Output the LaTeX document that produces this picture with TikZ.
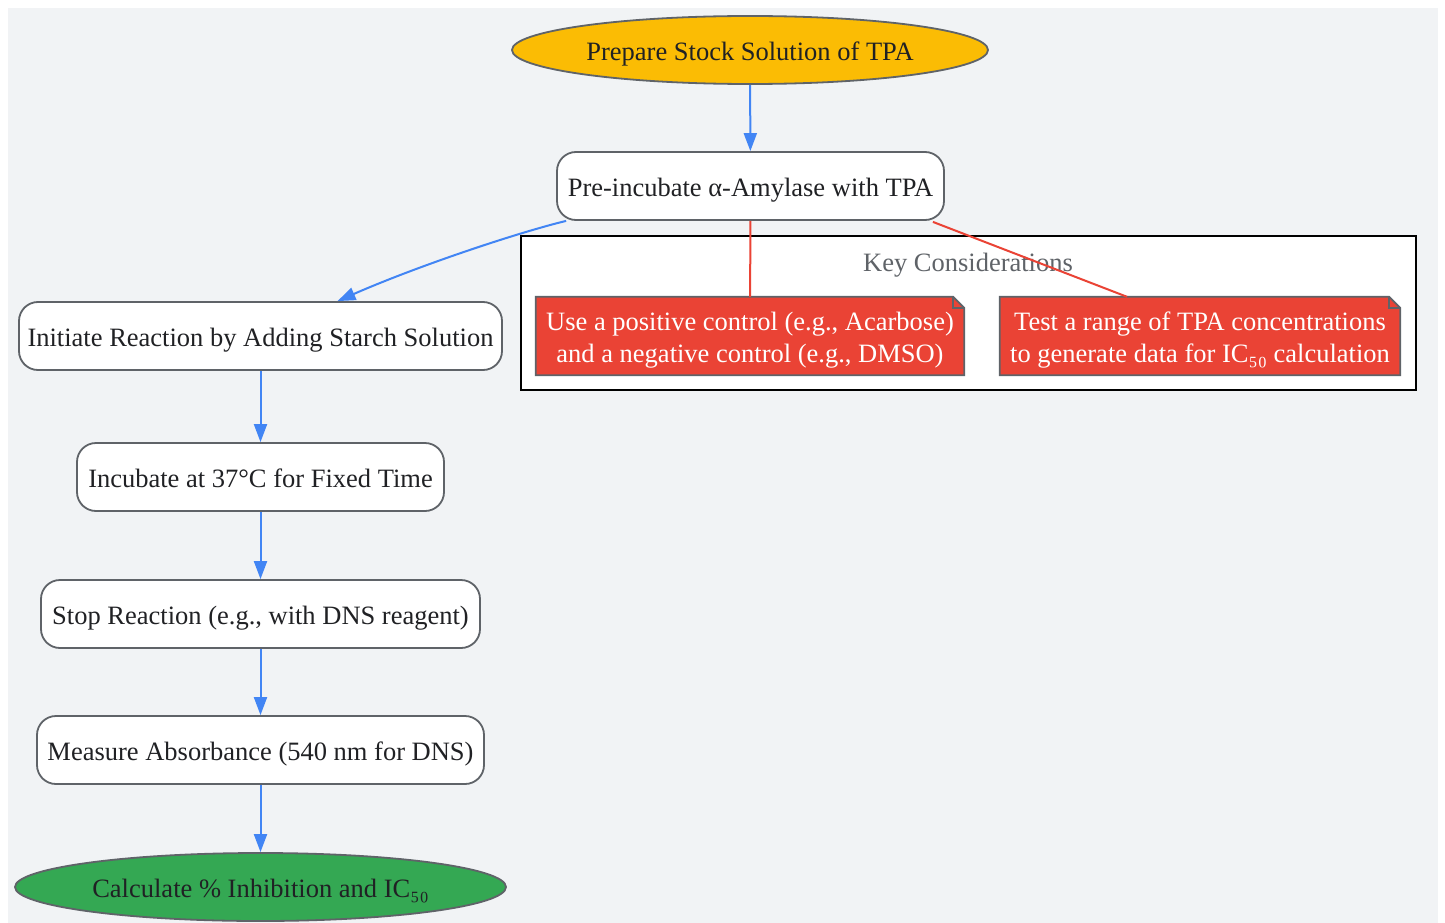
\documentclass[tikz,border=0pt]{standalone}
\usepackage{fontspec}
\setmainfont{Liberation Serif}
\usetikzlibrary{shapes.geometric,arrows.meta}
\definecolor{bg}{HTML}{F1F3F5}
\definecolor{edgegray}{HTML}{5F6368}
\definecolor{gyellow}{HTML}{FBBC04}
\definecolor{ggreen}{HTML}{34A853}
\definecolor{gred}{HTML}{EA4335}
\definecolor{gblue}{HTML}{4285F4}
\definecolor{txt}{HTML}{202124}
\pgfdeclarelayer{layerA}
\pgfdeclarelayer{layerB}
\pgfsetlayers{layerA,layerB,main}
\begin{document}
\begin{tikzpicture}[x=1pt,y=-1pt,
 every node/.style={font=\fontsize{26.5}{32}\selectfont, text=txt, inner sep=0pt, text height=24pt, text depth=3pt},
 stepbox/.style={draw=edgegray, line width=1.8pt, fill=white, rounded corners=19pt, minimum height=68pt},
 oval/.style={ellipse, draw=edgegray, line width=1.8pt, minimum height=68pt},
 flow/.style={draw=gblue, line width=2pt, -{Triangle[length=18pt,width=13pt]}},
 link/.style={draw=gred, line width=2pt},
 notebox/.style={minimum height=78pt, text=white, align=center, text height=56pt, text depth=3pt},
 noteshape/.style={draw=edgegray, line width=1.8pt, fill=gred},
]
\useasboundingbox (0,0) rectangle (1445,923);
\begin{pgfonlayer}{layerA}
\fill[bg] (8,8) rectangle (1438,923);
\node[draw=black, line width=2pt, fill=white, minimum width=895pt, minimum height=154pt] (clus) at (968.5,313) {};
\end{pgfonlayer}

% main flow
\node[oval, fill=gyellow, minimum width=476pt] (prep) at (750,50) {Prepare Stock Solution of TPA};
\node[stepbox, minimum width=387pt] (pre) at (750.5,186) {Pre-incubate α-Amylase with TPA};
\node[stepbox, minimum width=483pt] (init) at (260.5,336) {Initiate Reaction by Adding Starch Solution};
\node[stepbox, minimum width=367pt] (inc) at (260.5,477) {Incubate at 37°C for Fixed Time};
\node[stepbox, minimum width=439pt] (stop) at (260.5,614) {Stop Reaction (e.g., with DNS reagent)};
\node[stepbox, minimum width=447pt] (meas) at (260.5,750) {Measure Absorbance (540 nm for DNS)};
\node[oval, fill=ggreen, minimum width=491pt] (calc) at (260.5,887) {Calculate \% Inhibition and IC₅₀};

% cluster label
\node[text=edgegray] (clab) at (968,261) {Key Considerations};

% notes
\node[notebox, minimum width=428pt] (n1) at (750,336) {Use a positive control (e.g., Acarbose)\\and a negative control (e.g., DMSO)};
\node[notebox, minimum width=400pt] (n2) at (1200,336) {Test a range of TPA concentrations\\to generate data for IC₅₀ calculation};
\begin{pgfonlayer}{layerB}
\foreach \n in {n1,n2}{
  \draw[noteshape] (\n.north west) -- ([xshift=-11pt]\n.north east) -- ([yshift=-11pt]\n.north east) -- (\n.south east) -- (\n.south west) -- cycle;
  \draw[edgegray, line width=1.8pt] ([xshift=-11pt]\n.north east) -- ([xshift=-11pt,yshift=-11pt]\n.north east) -- ([yshift=-11pt]\n.north east);
}
\end{pgfonlayer}

% connectors
\draw[flow] (prep) -- (pre);
\draw[flow] ([xshift=10pt]pre.south west) .. controls (520,232) and (420,265) .. ([xshift=77pt]init.north);
\draw[flow] (init) -- (inc);
\draw[flow] (inc) -- (stop);
\draw[flow] (stop) -- (meas);
\draw[flow] (meas) -- (calc);
\draw[link] (pre) -- (n1);
\draw[link] ([xshift=-12pt,yshift=-1pt]pre.south east) -- ([xshift=-73pt]n2.north);
\end{tikzpicture}
\end{document}
